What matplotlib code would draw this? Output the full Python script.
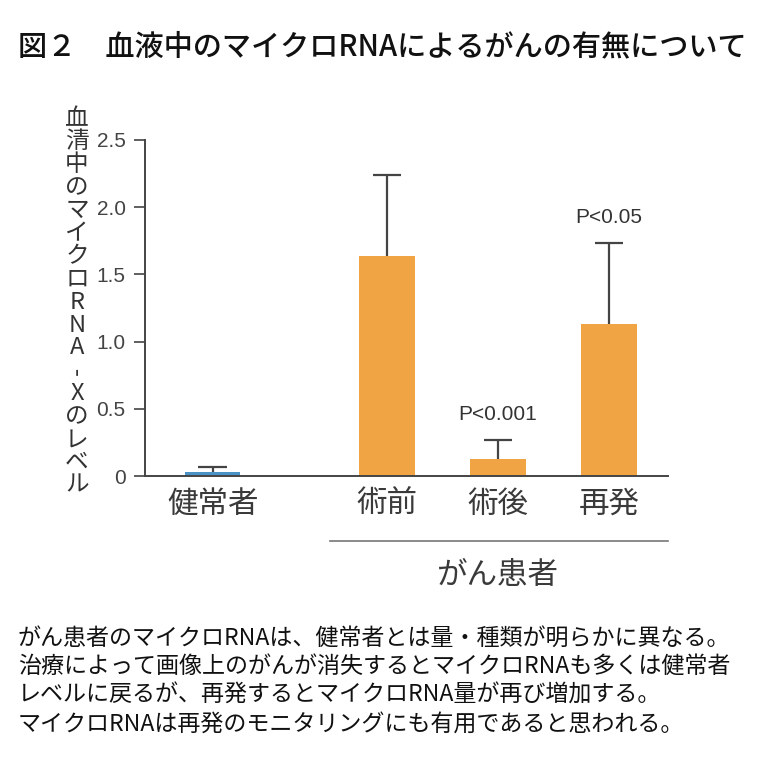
import matplotlib
matplotlib.use('Agg')
import matplotlib.pyplot as plt
import numpy as np

plt.rcParams['font.family'] = ['Noto Sans CJK JP', 'DejaVu Sans']

# data
groups = ["健常者", "術前", "術後", "再発"]
means = [0.03, 1.64, 0.13, 1.13]
errs = [0.04, 0.60, 0.14, 0.60]
pvals = ["", "", "P<0.001", "P<0.05"]
colors = ["#4a92c4", "#f0a444", "#f0a444", "#f0a444"]
yticks = [0, 0.5, 1.0, 1.5, 2.0, 2.5]
ytick_labels = ["0", "0.5", "1.0", "1.5", "2.0", "2.5"]
xpos = np.array([0, 1.57, 2.57, 3.57])

title = "図２　血液中のマイクロRNAによるがんの有無について"
ylabel = "血清中のマイクロRNA-Xのレベル"
group_label = "がん患者"
caption = ["がん患者のマイクロRNAは、健常者とは量・種類が明らかに異なる。",
           "治療によって画像上のがんが消失するとマイクロRNAも多くは健常者",
           "レベルに戻るが、再発するとマイクロRNA量が再び増加する。",
           "マイクロRNAは再発のモニタリングにも有用であると思われる。"]

fig = plt.figure(figsize=(7.6, 7.69), dpi=100)
ax = fig.add_axes([0.1908, 0.381, 0.688, 0.437])

means = np.array(means)
errs = np.array(errs)
ax.bar(xpos, means, width=0.5, color=colors, zorder=2)
# upper-only error bars with a cap
ax.vlines(xpos, means, means + errs, color='#444444', lw=1.6, zorder=3)
ax.hlines(means + errs, xpos - 0.13, xpos + 0.13, color='#444444', lw=1.6, zorder=3)
for x, m, e, p in zip(xpos, means, errs, pvals):
    if p:
        ax.text(x, m + e + 0.12, p, ha='center', va='bottom', fontsize=15,
                family='Liberation Sans', color='#333333')

ax.set_ylim(0, 2.5)
ax.set_xlim(-0.61, 4.10)
ax.set_yticks(yticks)
ax.set_yticklabels(ytick_labels, fontsize=15, family='Liberation Sans', color='#444444')
ax.tick_params(axis='y', length=8, width=1.2, color='#444444', pad=6)
ax.set_xticks(xpos)
ax.set_xticklabels(groups, fontsize=22, color='#3a3a3a')
ax.tick_params(axis='x', length=0, pad=9)
for s in ['top', 'right']:
    ax.spines[s].set_visible(False)
for s in ['left', 'bottom']:
    ax.spines[s].set_color('#444444')
    ax.spines[s].set_linewidth(1.4)

# group bracket line under patients
fig.add_artist(plt.Line2D([330 / 760, 668 / 760], [1 - 541 / 769, 1 - 541 / 769],
                          color='#777777', lw=1.2))
fig.text(497 / 760, 1 - 575 / 769, group_label, ha='center', va='center',
         fontsize=22, color='#3a3a3a')

# vertical y label, one character per line
y0 = 119
for i, ch in enumerate(ylabel):
    rot = 90 if ch == '-' else 0
    fig.text(77 / 760, 1 - (y0 + i * 22.9) / 769, ch, ha='center', va='center',
             fontsize=17, color='#333333', rotation=rot)

fig.text(18 / 760, 1 - 47 / 769, title, ha='left', va='center', fontsize=21,
         weight='medium', color='#111111')

for i, line in enumerate(caption):
    fig.text(18 / 760, 1 - (638 + i * 28.8) / 769, line, ha='left', va='center',
             fontsize=16.6, color='#111111')

fig.savefig('out.png', dpi=100)
